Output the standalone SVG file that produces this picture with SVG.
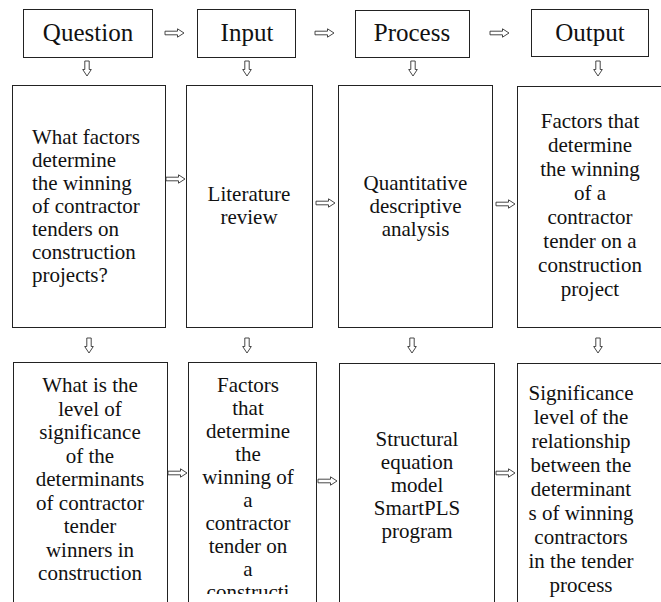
<svg xmlns="http://www.w3.org/2000/svg" xmlns:xlink="http://www.w3.org/1999/xlink" width="661" height="602" viewBox="0 0 661 602">
<style>
.box{fill:#fff;stroke:#222;stroke-width:1}
.hd{font-family:"Liberation Serif","DejaVu Serif",serif;font-size:25px;fill:#111;text-anchor:middle}
.tx{font-family:"Liberation Serif","DejaVu Serif",serif;font-size:21px;fill:#111;text-anchor:middle}
.lt{text-anchor:start}
.arr{fill:#fff;stroke:#333;stroke-width:0.9}
</style>
<defs>
<path id="ar" d="M0,-1.8 H12.5 V-4.2 L19,0 L12.5,4.2 V1.8 H0 Z"/>
<path id="ad" d="M-2.2,0 H2.2 V8.5 H4.3 L0,15 L-4.3,8.5 H-2.2 Z"/>
<clipPath id="clip3"><rect x="0" y="0" width="661" height="594"/></clipPath>
</defs>
<rect width="661" height="602" fill="#fff"/>

<g id="question"><rect class="box" x="23.5" y="9.5" width="129" height="48"/><text class="hd" x="88" y="41">Question</text></g>
<g id="input"><rect class="box" x="197.5" y="9.5" width="98" height="48"/><text class="hd" x="247" y="41">Input</text></g>
<g id="process"><rect class="box" x="355.5" y="10.5" width="114" height="47"/><text class="hd" x="412" y="41">Process</text></g>
<g id="output"><rect class="box" x="531.5" y="9.5" width="117" height="47"/><text class="hd" x="590" y="41">Output</text></g>

<g id="q1"><rect class="box" x="12.5" y="85.5" width="153" height="242"/>
<text class="tx lt" x="32"><tspan x="32" y="144">What factors</tspan><tspan x="32" y="167">determine</tspan><tspan x="32" y="190">the winning</tspan><tspan x="32" y="213">of contractor</tspan><tspan x="32" y="236">tenders on</tspan><tspan x="32" y="259">construction</tspan><tspan x="32" y="282">projects?</tspan></text></g>
<g id="i1"><rect class="box" x="186.5" y="85.5" width="126" height="242"/>
<text class="tx"><tspan x="249" y="201">Literature</tspan><tspan x="249" y="224">review</tspan></text></g>
<g id="p1"><rect class="box" x="338.5" y="85.5" width="154" height="242"/>
<text class="tx"><tspan x="415.5" y="190">Quantitative</tspan><tspan x="415.5" y="213">descriptive</tspan><tspan x="415.5" y="236">analysis</tspan></text></g>
<g id="o1"><rect class="box" x="517.5" y="86.5" width="160" height="241"/>
<text class="tx"><tspan x="590" y="128">Factors that</tspan><tspan x="590" y="152">determine</tspan><tspan x="590" y="176">the winning</tspan><tspan x="590" y="200">of a</tspan><tspan x="590" y="224">contractor</tspan><tspan x="590" y="248">tender on a</tspan><tspan x="590" y="272">construction</tspan><tspan x="590" y="296">project</tspan></text></g>

<g id="q2"><rect class="box" x="13.5" y="362.5" width="154" height="260"/>
<text class="tx"><tspan x="90" y="392">What is the</tspan><tspan x="90" y="415.5">level of</tspan><tspan x="90" y="439">significance</tspan><tspan x="90" y="462.5">of the</tspan><tspan x="90" y="486">determinants</tspan><tspan x="90" y="509.5">of contractor</tspan><tspan x="90" y="533">tender</tspan><tspan x="90" y="556.5">winners in</tspan><tspan x="90" y="580">construction</tspan></text></g>
<g id="i2"><rect class="box" x="188.5" y="362.5" width="128" height="260"/>
<text class="tx" clip-path="url(#clip3)"><tspan x="248" y="392">Factors</tspan><tspan x="248" y="415">that</tspan><tspan x="248" y="438">determine</tspan><tspan x="248" y="461">the</tspan><tspan x="248" y="484">winning of</tspan><tspan x="248" y="507">a</tspan><tspan x="248" y="530">contractor</tspan><tspan x="248" y="553">tender on</tspan><tspan x="248" y="576">a</tspan><tspan x="248" y="599">constructi</tspan></text></g>
<g id="p2"><rect class="box" x="339.5" y="363.5" width="155" height="260"/>
<text class="tx"><tspan x="417" y="446">Structural</tspan><tspan x="417" y="469">equation</tspan><tspan x="417" y="492">model</tspan><tspan x="417" y="515">SmartPLS</tspan><tspan x="417" y="538">program</tspan></text></g>
<g id="o2"><rect class="box" x="517.5" y="363.5" width="160" height="260"/>
<text class="tx"><tspan x="581" y="400">Significance</tspan><tspan x="581" y="424">level of the</tspan><tspan x="581" y="448">relationship</tspan><tspan x="581" y="472">between the</tspan><tspan x="581" y="496">determinant</tspan><tspan x="581" y="520">s of winning</tspan><tspan x="581" y="544">contractors</tspan><tspan x="581" y="568">in the tender</tspan><tspan x="581" y="592">process</tspan></text></g>

<g id="connectors">
<use href="#ar" class="arr" x="165" y="33"/>
<use href="#ar" class="arr" x="315" y="33"/>
<use href="#ar" class="arr" x="490" y="33"/>
<use href="#ad" class="arr" x="87" y="61"/>
<use href="#ad" class="arr" x="247" y="61"/>
<use href="#ad" class="arr" x="413" y="61"/>
<use href="#ad" class="arr" x="598" y="61"/>
<use href="#ar" class="arr" x="166" y="179"/>
<use href="#ar" class="arr" x="316" y="203"/>
<use href="#ar" class="arr" x="496" y="204"/>
<use href="#ad" class="arr" x="89" y="338"/>
<use href="#ad" class="arr" x="247" y="338"/>
<use href="#ad" class="arr" x="412" y="338"/>
<use href="#ad" class="arr" x="598" y="338"/>
<use href="#ar" class="arr" x="168" y="473"/>
<use href="#ar" class="arr" x="318" y="481"/>
<use href="#ar" class="arr" x="496" y="473"/>
</g>
</svg>
